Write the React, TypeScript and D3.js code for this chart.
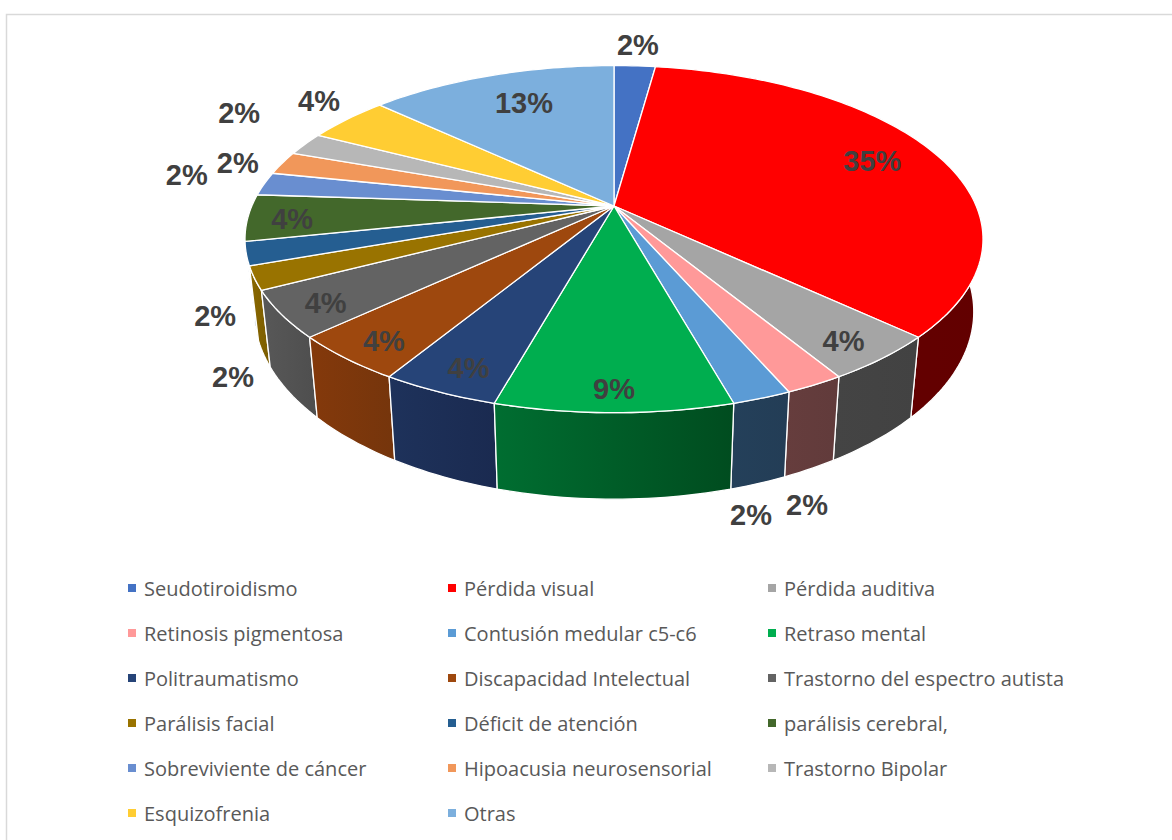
// Pastel 3D de diagnósticos con perspectiva
import { useEffect, useRef } from "react"
import * as d3 from "d3"

const categorias = [
  "Seudotiroidismo", "Pérdida visual", "Pérdida auditiva",
  "Retinosis pigmentosa", "Contusión medular c5-c6", "Retraso mental",
  "Politraumatismo", "Discapacidad Intelectual", "Trastorno del espectro autista",
  "Parálisis facial", "Déficit de atención", "parálisis cerebral,",
  "Sobreviviente de cáncer", "Hipoacusia neurosensorial", "Trastorno Bipolar",
  "Esquizofrenia", "Otras",
]
const casos = [1, 16, 2, 1, 1, 4, 2, 2, 2, 1, 1, 2, 1, 1, 1, 2, 6]

const colores = [
  "#4472c4", "#ff0000", "#a5a5a5", "#ff9999", "#5b9bd5", "#00ae4f", "#264478", "#9e480e",
  "#636363", "#997300", "#255e91", "#43682b", "#698ed0", "#f1975a", "#b7b7b7", "#ffcd33", "#7cafdd",
]
// Lado del cilindro: color izquierdo y derecho del degradado
const coloresLado = [
  ["#2a4680", "#2a4680"], ["#680000", "#620000"], ["#444444", "#424242"], ["#663d3d", "#613b3b"],
  ["#24405a", "#233d56"], ["#006e31", "#004c1f"], ["#1e325b", "#1a2a50"], ["#84390b", "#75350c"],
  ["#585858", "#4e4e4e"], ["#8a6800", "#7a5c00"], ["#1f5080", "#1f4e79"], ["#365322", "#365322"],
  ["#54729f", "#54729f"], ["#c17948", "#c17948"], ["#929292", "#929292"], ["#cca429", "#cca429"],
  ["#638cb1", "#638cb1"],
]

// Etiquetas: radio relativo y giro (grados) respecto al centro de cada porción
const etiquetaRadio = [1.183, 0.803, 0.889, 1.391, 1.395, 0.905, 0.886, 0.891, 0.888, 1.227, 1.139, 0.879, 1.237, 1.125, 1.315, 1.168, 0.753]
const etiquetaGiro = [0, -1, 1, 10.8, 8, 0, -1, -1, -1, -20.7, -15.1, -1, 1, -1.8, 4.8, 2.4, 1.5]

const ancho = 1172
const alto = 840
const cx = 614
const cy = 206
const escalaX = 362.2
const escalaY = 167.2
const fuga = -0.191
const ladoX = 0.975
const ladoY = 1.08
const ladoCy = 276

const columnasLeyenda = [128, 448, 768]
const filaLeyenda = d3.scaleLinear().domain([0, 5]).range([588, 813])

// Círculo unitario a pantalla, con perspectiva
function proyectar(angulo: number, r = 1): [number, number] {
  const u = r * Math.sin(angulo)
  const v = -r * Math.cos(angulo)
  const w = 1 + fuga * v
  return [cx + (escalaX * u) / w, cy + (escalaY * v) / w]
}

function proyectarBase(angulo: number): [number, number] {
  const [x, y] = proyectar(angulo)
  return [cx + (x - cx) * ladoX, ladoCy + (y - cy) * ladoY]
}

function angulosArco(a0: number, a1: number) {
  const n = Math.max(2, Math.ceil((a1 - a0) / 0.02))
  return d3.range(n + 1).map((i) => a0 + ((a1 - a0) * i) / n)
}

export default function App() {
  const svgRef = useRef<SVGSVGElement>(null)

  useEffect(() => {
    if (!svgRef.current) return
    const svg = d3.select(svgRef.current)
    svg.selectAll("*").remove()

    // Borde del área del gráfico, abierto a la derecha y abajo
    svg.append("rect").attr("width", ancho).attr("height", alto).attr("fill", "#fff")
    svg.append("path")
      .attr("d", `M6.5,${alto}V14.5H${ancho}`)
      .attr("fill", "none")
      .attr("stroke", "#d9d9d9")
      .attr("stroke-width", 1.5)

    const total = d3.sum(casos)
    const arcos = d3.pie<number>().sort(null)(casos)
    const linea = d3.line()
    const defs = svg.append("defs")

    coloresLado.forEach((par, i) => {
      const grad = defs.append("linearGradient").attr("id", `lado-${i}`)
      grad.append("stop").attr("offset", "0%").attr("stop-color", par[0])
      grad.append("stop").attr("offset", "100%").attr("stop-color", par[1])
    })

    // Lados: de atrás hacia adelante
    const ordenLados = d3.range(casos.length).sort(
      (a, b) =>
        -Math.cos((arcos[a].startAngle + arcos[a].endAngle) / 2) +
        Math.cos((arcos[b].startAngle + arcos[b].endAngle) / 2),
    )
    ordenLados.forEach((i) => {
      const angulos = angulosArco(arcos[i].startAngle, arcos[i].endAngle)
      const puntos = [...angulos.map((a) => proyectar(a)), ...angulos.slice().reverse().map(proyectarBase)]
      svg.append("path")
        .attr("d", linea(puntos) + "Z")
        .attr("fill", `url(#lado-${i})`)
        .attr("stroke", "#fff")
        .attr("stroke-width", 1.3)
        .attr("stroke-linejoin", "round")
    })

    // Cara superior
    arcos.forEach((arco, i) => {
      const puntos = [[cx, cy] as [number, number], ...angulosArco(arco.startAngle, arco.endAngle).map((a) => proyectar(a))]
      svg.append("path")
        .attr("d", linea(puntos) + "Z")
        .attr("fill", colores[i])
        .attr("stroke", "#fff")
        .attr("stroke-width", 1.3)
        .attr("stroke-linejoin", "round")
    })

    // Porcentajes
    const formato = d3.format(".0%")
    arcos.forEach((arco, i) => {
      const medio = (arco.startAngle + arco.endAngle) / 2 + (etiquetaGiro[i] * Math.PI) / 180
      const [x, y] = proyectar(medio, etiquetaRadio[i])
      svg.append("text")
        .attr("x", x)
        .attr("y", y)
        .attr("text-anchor", "middle")
        .attr("dominant-baseline", "central")
        .attr("font-family", "Liberation Sans")
        .attr("font-weight", "bold")
        .attr("font-size", 29)
        .attr("fill", "#404040")
        .text(formato(casos[i] / total))
    })

    // Leyenda
    categorias.forEach((nombre, i) => {
      const x = columnasLeyenda[i % 3]
      const y = filaLeyenda(Math.floor(i / 3))
      svg.append("rect").attr("x", x).attr("y", y - 4).attr("width", 8).attr("height", 8).attr("fill", colores[i])
      svg.append("text")
        .attr("x", x + 16)
        .attr("y", y)
        .attr("dominant-baseline", "central")
        .attr("font-family", "Open Sans")
        .attr("font-size", 20)
        .attr("fill", "#595959")
        .text(nombre)
    })
  }, [])

  return <svg ref={svgRef} width={ancho} height={alto} style={{ position: "absolute", left: 0, top: 0 }} />
}
